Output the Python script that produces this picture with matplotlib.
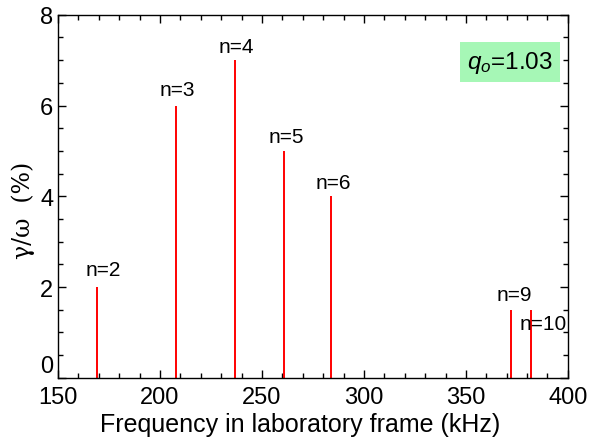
import matplotlib
matplotlib.use("Agg")
import matplotlib.pyplot as plt
from matplotlib.ticker import MultipleLocator, FixedFormatter

plt.rcParams["font.family"] = ["Liberation Sans", "DejaVu Sans"]
plt.rcParams["mathtext.fontset"] = "custom"
plt.rcParams["mathtext.rm"] = "Liberation Sans"
plt.rcParams["mathtext.it"] = "Liberation Sans:italic"

# mode data
modes = ["n=2", "n=3", "n=4", "n=5", "n=6", "n=9", "n=10"]
freq_khz = [169, 208, 237, 261, 284, 372, 382]
growth = [2.0, 6.0, 7.0, 5.0, 4.0, 1.5, 1.5]
y_ticks = [0, 2, 4, 6, 8]

# label offsets (pixels) relative to the top of each line
lab_dx = [6, 1, 1, 2, 2, 4, 12]
lab_dy = [8, 7, 4, 5, 4, 6, -23]

fig = plt.figure(figsize=(5.99, 4.39), dpi=100)
ax = fig.add_axes([0.097, 0.137, 0.851, 0.827])

ax.vlines(freq_khz, 0, growth, colors="red", linewidth=1.4)
for f, g, lab, dx, dy in zip(freq_khz, growth, modes, lab_dx, lab_dy):
    ax.annotate(lab, (f, g), xytext=(dx, dy), textcoords="offset pixels",
                ha="center", va="bottom", fontsize=15)

ax.set_xlim(150, 400)
ax.set_ylim(0, 8)
ax.xaxis.set_major_locator(MultipleLocator(50))
ax.xaxis.set_minor_locator(MultipleLocator(10))
ax.set_yticks(y_ticks)
# the "0" label is drawn separately, lifted above the corner
ax.set_yticklabels([""] + [str(v) for v in y_ticks[1:]])
ax.yaxis.set_minor_locator(MultipleLocator(0.5))
ax.tick_params(which="both", direction="in", top=True, right=True, width=1)
ax.tick_params(which="major", length=6, labelsize=17)
ax.tick_params(axis="x", which="major", pad=6)
ax.tick_params(which="minor", length=3.5)
for s in ax.spines.values():
    s.set_linewidth(1)

ax.annotate(str(y_ticks[0]), (ax.get_xlim()[0], y_ticks[0]),
            xytext=(-5, 1), textcoords="offset pixels",
            ha="right", va="bottom", fontsize=17)

ax.set_xlabel("Frequency in laboratory frame (kHz)", fontsize=18)
ax.xaxis.set_label_coords(0.475, -0.094)
ax.set_ylabel("γ/ω  (%)", fontsize=17, family=["DejaVu Serif"])
ax.yaxis.set_label_coords(-0.045, 0.463)

ax.text(0.886, 0.870, "$q_o$=1.03", transform=ax.transAxes, ha="center",
        va="center", fontsize=17.5,
        bbox=dict(boxstyle="square,pad=0.3", facecolor="#a6f7b6",
                  edgecolor="none"))

fig.savefig("out.png", dpi=100, facecolor="white")
